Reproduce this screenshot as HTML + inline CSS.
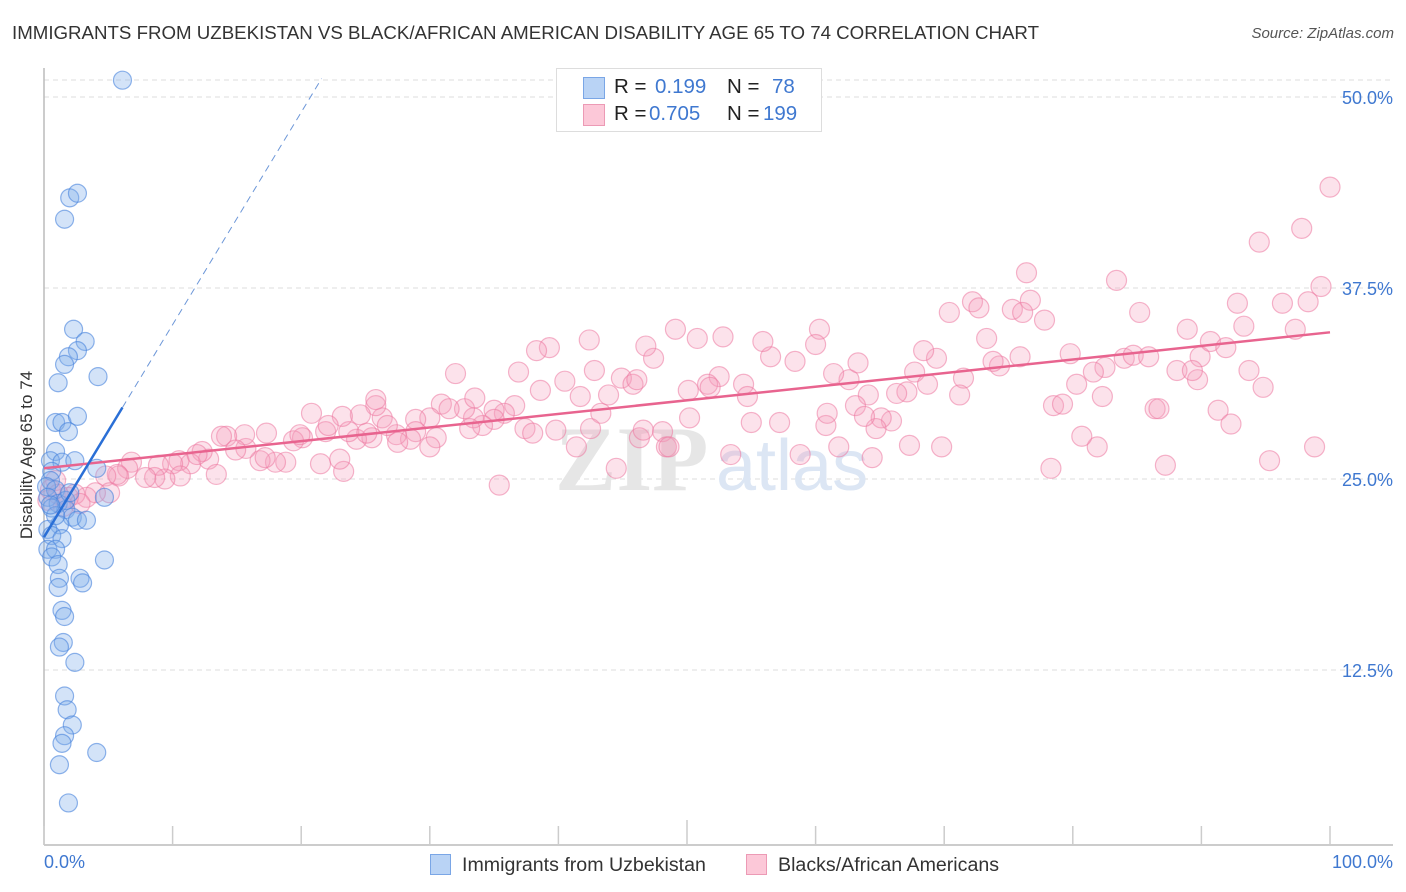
<!DOCTYPE html>
<html><head><meta charset="utf-8">
<style>
body{margin:0;background:#fff;font-family:"Liberation Sans",sans-serif;}
#wrap{position:relative;width:1406px;height:892px;overflow:hidden;}
.t{position:absolute;white-space:nowrap;}
</style></head>
<body>
<div id="wrap">
<div class="t" style="left:12px;top:22px;font-size:18.7px;color:#333;">IMMIGRANTS FROM UZBEKISTAN VS BLACK/AFRICAN AMERICAN DISABILITY AGE 65 TO 74 CORRELATION CHART</div>
<div class="t" style="right:12px;top:25px;font-size:15px;color:#555;font-style:italic;">Source: ZipAtlas.com</div>
<svg id="svg" width="1406" height="892" style="position:absolute;left:0;top:0"></svg>
</div>
<script>
const blueX=[6.1,2.0,2.6,1.6,2.3,3.2,2.6,1.9,1.6,1.1,4.2,0.9,1.4,2.6,1.9,0.9,0.5,1.4,2.4,4.1,0.6,0.5,0.2,0.9,0.3,1.1,0.6,1.7,2.2,2.6,3.3,1.2,0.3,0.6,1.4,0.3,0.9,0.6,1.1,1.2,2.8,3.0,1.1,4.7,1.4,1.6,1.5,1.2,2.4,1.6,1.8,2.2,1.6,1.4,1.2,4.1,1.9,4.7,1.7,0.9,2.0,0.5];
const blueY=[51.1,43.4,43.7,42.0,34.8,34.0,33.4,33.0,32.5,31.3,31.7,28.7,28.7,29.1,28.1,26.8,26.2,26.1,26.2,25.7,25.5,24.9,24.5,24.3,23.8,23.4,23.1,23.0,22.5,22.3,22.3,22.0,21.7,21.3,21.1,20.4,20.4,19.9,19.4,18.5,18.5,18.2,17.9,19.7,16.4,16.0,14.3,14.0,13.0,10.8,9.9,8.9,8.2,7.7,6.3,7.1,3.8,23.8,23.6,22.6,24.1,23.3];
const pinkX=[100.0,97.8,94.5,99.3,98.3,96.3,92.8,93.3,97.3,88.9,85.2,83.4,76.4,76.7,72.2,72.7,70.4,75.3,77.8,76.1,73.3,75.9,79.8,84.0,84.7,85.9,88.1,89.9,90.7,91.9,93.7,94.8,89.7,89.3,82.5,81.6,80.3,78.5,79.2,82.3,86.4,86.7,91.3,92.3,98.8,95.3,87.2,81.9,80.7,78.3,74.3,73.8,71.5,71.2,69.4,68.4,67.7,68.7,67.1,66.3,65.9,65.1,64.1,63.1,64.7,67.3,69.8,64.4,62.6,63.3,61.4,60.3,60.0,58.4,56.5,55.9,54.4,54.7,52.5,51.6,51.8,50.8,52.8,49.1,47.4,46.8,44.9,45.8,46.1,43.9,42.8,42.4,39.3,38.3,36.9,36.6,38.6,40.5,41.7,43.3,42.5,39.8,37.4,35.8,35.0,35.0,34.1,33.4,33.1,32.7,32.0,30.9,31.5,30.5,30.0,28.9,28.9,28.5,27.4,26.3,25.8,26.7,25.5,24.3,25.8,24.6,23.7,23.2,21.9,22.1,21.5,20.8,20.1,19.4,18.8,18.0,19.9,17.3,16.8,15.7,15.6,14.2,13.8,12.8,13.4,12.3,11.4,10.5,10.0,10.6,9.4,8.9,8.6,7.9,6.8,6.5,5.8,5.7,4.8,5.1,4.0,3.3,2.4,1.9,2.8,1.5,23.3,35.4,44.5,46.3,48.1,48.4,50.2,53.4,55.0,57.2,58.8,60.8,61.8,63.8,60.9,50.1,48.6,46.6,41.4,38.0,33.5,30.0,27.5,25.1,23.0,17.2,14.9,11.9,0.5,0.9,0.3,1.1];
const pinkY=[44.1,41.4,40.5,37.6,36.6,36.5,36.5,35.0,34.8,34.8,35.9,38.0,38.5,36.7,36.6,36.2,35.9,36.1,35.4,35.9,34.2,33.0,33.2,32.9,33.1,33.0,32.1,33.0,34.0,33.6,32.1,31.0,31.5,32.1,32.3,32.0,31.2,29.8,29.9,30.4,29.6,29.6,29.5,28.6,27.1,26.2,25.9,27.1,27.8,25.7,32.4,32.7,31.6,30.5,32.9,33.4,32.0,31.2,30.7,30.6,28.8,29.0,30.5,29.8,28.3,27.2,27.1,26.4,31.5,32.6,31.9,34.8,33.8,32.7,33.0,34.0,31.2,30.4,31.7,31.2,31.0,34.2,34.3,34.8,32.9,33.7,31.6,31.2,31.5,30.5,32.1,34.1,33.6,33.4,32.0,29.8,30.8,31.4,30.4,29.3,28.3,28.2,28.3,29.3,29.5,28.9,28.5,29.0,28.3,29.6,31.9,29.9,29.6,27.7,29.0,28.9,28.1,27.6,27.9,29.0,29.8,28.5,27.7,27.6,30.2,29.2,28.1,29.1,28.1,28.5,26.0,29.3,27.7,27.5,26.1,26.1,27.9,28.0,26.2,27.0,27.9,27.8,27.8,26.3,25.3,26.8,26.0,26.2,26.0,25.2,25.0,25.9,25.1,25.1,26.1,25.7,25.2,25.3,25.2,24.1,24.1,23.8,24.0,23.8,23.4,23.2,25.5,24.6,25.7,27.7,28.1,27.1,29.0,26.6,28.7,28.7,26.6,28.5,27.1,29.1,29.3,30.8,27.1,28.2,27.1,28.0,30.3,27.1,27.4,28.0,26.3,26.4,26.9,26.6,24.3,24.9,23.6,24.0];
const yTicks=[12.5,25.0,37.5,50.0];
const xTickVals=[0,10,20,30,40,50,60,70,80,90,100];
const pinkTrend=[25.7,34.6];   // y at x=0 and x=100
const blueTrend=[21.2,1.39];   // intercept, slope

const X0=44,X1=1330,Y0=861,YS=15.28;
const sx=v=>X0+v*(X1-X0)/100;
const sy=v=>Y0-v*YS;
const svg=document.getElementById('svg');
const NS='http://www.w3.org/2000/svg';
function mk(tag,at){const e=document.createElementNS(NS,tag);for(const k in at)e.setAttribute(k,at[k]);svg.appendChild(e);return e;}

let tl=mk('line',{x1:44,x2:1393,y1:80,y2:80,stroke:'#ddd','stroke-dasharray':'5,4'});


yTicks.forEach(v=>{
  const g=mk('line',{x1:44,x2:1393,y1:sy(v),y2:sy(v),stroke:'#ddd','stroke-dasharray':'5,4'});
  
  
  const t=mk('text',{x:1393,y:sy(v)+7,'text-anchor':'end','font-size':18,fill:'#3f78d0','font-family':'Liberation Sans, sans-serif'});
  t.textContent=v.toFixed(1)+'%';
  
  
});
let ya=mk('line',{x1:44,x2:44,y1:68,y2:845,stroke:'#bbb','stroke-width':1.5});


let xa=mk('line',{x1:44,x2:1393,y1:845,y2:845,stroke:'#bbb','stroke-width':1.5});


xTickVals.forEach(v=>{
  const tk=mk('line',{x1:sx(v),x2:sx(v),y1:v===50?820:826,y2:845,stroke:'#ccc','stroke-width':1.5});
  
  
});
let wm=mk('text',{x:555,y:490,'font-size':92,fill:'#e6e6e6','font-family':'Liberation Serif, serif','font-weight':'bold'});
wm.textContent='ZIP';


let wm2=mk('text',{x:716,y:490,'font-size':72,fill:'#dce6f4','font-family':'Liberation Sans, sans-serif'});
wm2.textContent='atlas';



pinkX.forEach((x,i)=>{
  const c=mk('circle',{cx:sx(x),cy:sy(pinkY[i]),r:10,fill:'rgba(244,160,190,0.3)',stroke:'rgba(236,120,160,0.55)','stroke-width':1.2});
  
  
});
blueX.forEach((x,i)=>{
  const c=mk('circle',{cx:sx(x),cy:sy(blueY[i]),r:9,fill:'rgba(130,175,235,0.35)',stroke:'rgba(70,130,220,0.6)','stroke-width':1.2});
  
  
});
let pt=mk('line',{x1:sx(0),y1:sy(pinkTrend[0]),x2:sx(100),y2:sy(pinkTrend[1]),stroke:'#e8648f','stroke-width':2.5});


const bEnd=6.1, bDash=(51.2-blueTrend[0])/blueTrend[1];
let bt=mk('line',{x1:sx(0),y1:sy(blueTrend[0]),x2:sx(bEnd),y2:sy(blueTrend[0]+blueTrend[1]*bEnd),stroke:'#2a6fd6','stroke-width':2.5});


let bd=mk('line',{x1:sx(bEnd),y1:sy(blueTrend[0]+blueTrend[1]*bEnd),x2:sx(bDash),y2:sy(51.2),stroke:'#6d97d8','stroke-width':1,'stroke-dasharray':'7,5'});


</script>
<div class="t" style="left:27px;top:455px;transform:translate(-50%,-50%) rotate(-90deg);font-size:17px;color:#333;">Disability Age 65 to 74</div>
<div class="t" style="left:44px;top:852px;font-size:18px;color:#3f78d0;">0.0%</div>
<div class="t" style="right:13px;top:852px;font-size:18px;color:#3f78d0;">100.0%</div>
<div style="position:absolute;left:556px;top:68px;width:264px;height:62px;border:1px solid #ddd;background:#fff;font-size:20.5px;">
 <div style="position:absolute;left:26px;top:8px;width:20px;height:20px;background:#b9d3f5;border:1px solid #7aa6e6;"></div>
 <div class="t" style="left:57px;top:6px;color:#222;">R = </div><div class="t" style="left:98px;top:6px;color:#3f78d0;">0.199</div>
 <div class="t" style="left:170px;top:6px;color:#222;">N = </div><div class="t" style="left:215px;top:6px;color:#3f78d0;">78</div>
 <div style="position:absolute;left:26px;top:35px;width:20px;height:20px;background:#fcc8d8;border:1px solid #ec9ab5;"></div>
 <div class="t" style="left:57px;top:33px;color:#222;">R = </div><div class="t" style="left:92px;top:33px;color:#3f78d0;">0.705</div>
 <div class="t" style="left:170px;top:33px;color:#222;">N = </div><div class="t" style="left:206px;top:33px;color:#3f78d0;">199</div>
</div>
<div style="position:absolute;left:430px;top:852px;height:26px;font-size:19.6px;color:#333;">
 <div style="position:absolute;left:0;top:2px;width:400px;">
  <div style="position:absolute;left:0;top:0;width:19px;height:19px;background:#b9d3f5;border:1px solid #7aa6e6;"></div>
  <div class="t" style="left:32px;top:0;">Immigrants from Uzbekistan</div>
 </div>
 <div style="position:absolute;left:316px;top:2px;width:300px;">
  <div style="position:absolute;left:0;top:0;width:19px;height:19px;background:#fcc8d8;border:1px solid #ec9ab5;"></div>
  <div class="t" style="left:32px;top:0;">Blacks/African Americans</div>
 </div>
</div>
</body></html>
